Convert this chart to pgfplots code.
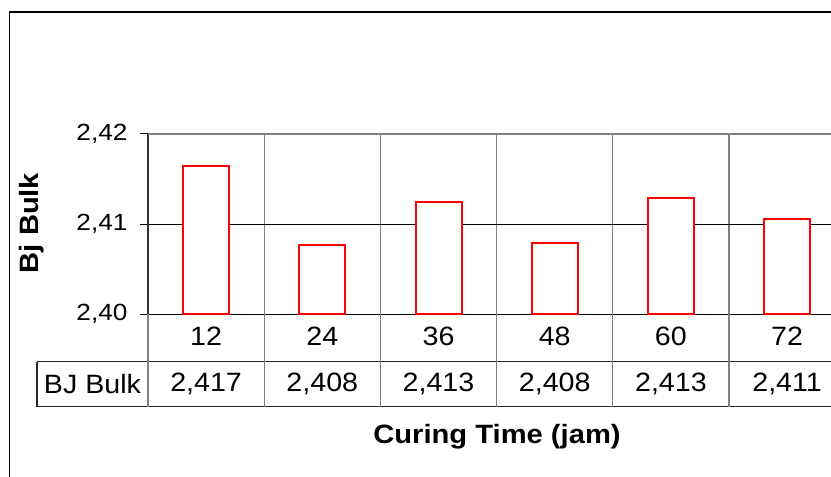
\documentclass[border=0pt]{standalone}
\usepackage{pgfplots}
\pgfplotsset{compat=1.18}
\usepackage{fontspec}
\setmainfont{Liberation Sans}
\newcommand\tickfont{\fontsize{23.5}{26}\selectfont}
\newcommand\tabfont{\fontsize{26.6}{30}\selectfont}
\newcommand\labfont{\fontsize{26.6}{30}\selectfont\bfseries}
\definecolor{gridgray}{RGB}{128,128,128}
\begin{document}
\begin{tikzpicture}[x=1bp,y=1bp]
\useasboundingbox (0,0) rectangle (831,477);
\clip (0,0) rectangle (831,477);
% outer chart frame
\draw[black, line width=1.2bp] (9.5,0) -- (9.5,465) -- (840,465);
\begin{axis}[
  at={(148bp,162.7bp)}, anchor=south west,
  scale only axis, width=697.2bp, height=180.3bp,
  xmin=0.5, xmax=6.5, ymin=2.40, ymax=2.42,
  ytick={2.40,2.41,2.42},
  xtick={1,...,6}, xticklabels={12,24,36,48,60,72},
  minor xtick={0.5,1.5,...,6.5},
  axis x line*=bottom, axis y line*=left,
  x axis line style={black, line width=1.4bp},
  y axis line style={black!80, line width=1.3bp},
  tick align=outside, major tick length=8bp, minor tick length=0pt,
  xtick style={draw=none},
  ytick style={black, line width=1bp},
  ymajorgrids, y grid style={black, line width=0.9bp},
  xminorgrids, minor x grid style={gridgray, line width=1.3bp},
  yticklabel style={font=\tickfont, xscale=1.12, anchor=east, inner sep=0pt, xshift=-11bp,
    /pgf/number format/.cd, fixed, fixed zerofill, precision=2, use comma, assume math mode=true},
  xticklabel style={font=\tabfont, xscale=1.08, anchor=center, yshift=-14bp},
  ybar, bar width=46bp,
]
\addplot[draw=red, fill=white, line width=2bp] coordinates {
  (1,2.4165) (2,2.4077) (3,2.4125) (4,2.4079) (5,2.4129) (6,2.4106)};
\draw[gridgray, line width=1.2bp] (axis cs:0.5,2.42) -- (axis cs:6.5,2.42);
\end{axis}
% data table
\draw[black!85, line width=1.2bp] (37,115.3) -- (840,115.3);
\draw[black!85, line width=1.2bp] (37,70.3) -- (840,70.3);
\draw[black!85, line width=1.2bp] (37,115.3) -- (37,70.3);
\foreach \k in {0,...,6} {
  \draw[gridgray, line width=1.3bp] ({148+116.2*\k},162.7) -- ({148+116.2*\k},70.3);
}
\node[font=\tabfont, xscale=1.08] at (92.5,93) {BJ Bulk};
\node[font=\tabfont, xscale=1.08] at ({148+58.1+116.2*0},93) {2,417};
\node[font=\tabfont, xscale=1.08] at ({148+58.1+116.2*1},93) {2,408};
\node[font=\tabfont, xscale=1.08] at ({148+58.1+116.2*2},93) {2,413};
\node[font=\tabfont, xscale=1.08] at ({148+58.1+116.2*3},93) {2,408};
\node[font=\tabfont, xscale=1.08] at ({148+58.1+116.2*4},93) {2,413};
\node[font=\tabfont, xscale=1.08] at ({148+58.1+116.2*5},93) {2,411};
% axis titles
\node[font=\labfont, xscale=1.1] at (497,40) {Curing Time (jam)};
\node[font=\labfont, yscale=1.1, rotate=90] at (32,254) {Bj Bulk};
\end{tikzpicture}
\end{document}
